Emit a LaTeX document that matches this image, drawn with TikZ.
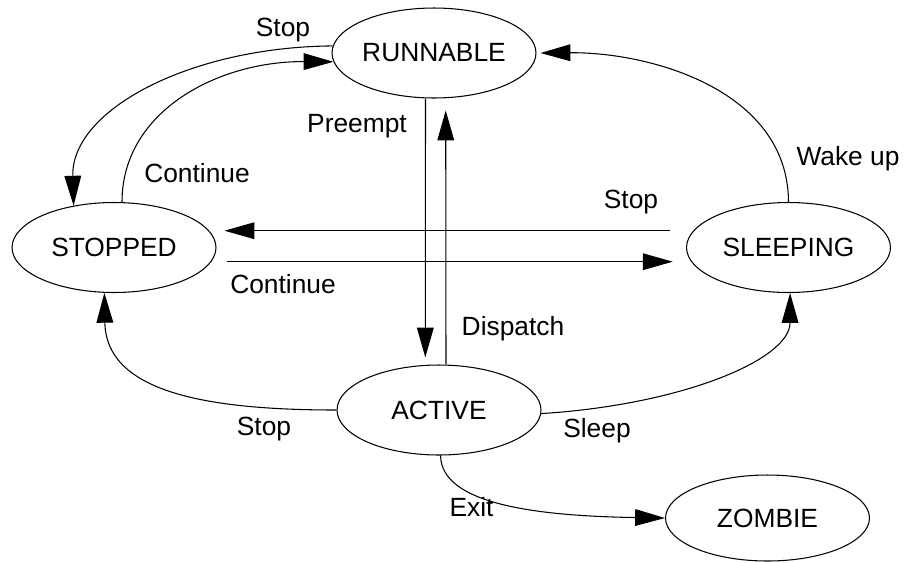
\documentclass[tikz,border=0pt]{standalone}
\usepackage{fontspec}
\setmainfont{Liberation Sans}
\usetikzlibrary{arrows.meta,shapes.geometric,calc}
\begin{document}
\begin{tikzpicture}[x=0.02cm,y=-0.02cm,
  state/.style={ellipse,draw,line width=0.6pt,minimum width=4.08cm,minimum height=1.8cm,inner sep=0pt,font=\fontsize{15}{18}\selectfont},
  lbl/.style={anchor=base,inner sep=0pt,font=\fontsize{15}{18}\selectfont},
  arr/.style={line width=0.6pt,-{Triangle[length=17pt,width=9.5pt]}}]
\useasboundingbox (0,0) rectangle (905,562);
\node[state] (run) at (434,53) {RUNNABLE};
\node[state] (stop) at (114,247.5) {STOPPED};
\node[state] (sleep) at (788.5,247.5) {SLEEPING};
\node[state] (act) at (439,410) {ACTIVE};
\node[state,minimum height=1.72cm] (zom) at (767.5,518) {ZOMBIE};
% curved connectors
\draw[arr] (run.176) .. controls (190,47) and (71,110) .. (stop.134);
\draw[arr] (stop.80) .. controls (122,110) and (220,61) .. (run.185);
\draw[arr] (sleep.90) .. controls (788,90) and (650,52) .. ($(run.east)+(4,0)$);
\draw[arr] (act.180) .. controls (200,410) and (106,390) .. (stop.258);
\draw[arr] (act.358) .. controls (680,405) and (790,360) .. (sleep.272);
\draw[arr] (act.272) .. controls (441,505) and (540,516) .. (zom.west);
% straight connectors
\draw[arr] ($(run.south)+(-8.5,0)$) -- ($(act.north)+(-13.7,-7)$);
\draw[arr] ($(act.north)+(7,0)$) -- ($(run.south)+(11.7,12)$);
\draw[arr] ($(sleep.west)+(-16,-16.8)$) -- ($(stop.east)+(8,-16.8)$);
\draw[arr] ($(stop.east)+(10,14.2)$) -- ($(sleep.west)+(-13.3,14.2)$);
% labels
\node[lbl] (l1) at (283,36.7) {Stop};
\node[lbl] (l2) at (197,182) {Continue};
\node[lbl] (l3) at (357,132.7) {Preempt};
\node[lbl] (l4) at (631,208) {Stop};
\node[lbl] (l5) at (283,293) {Continue};
\node[lbl] (l6) at (848,165) {Wake up};
\node[lbl] (l7) at (513,335.5) {Dispatch};
\node[lbl] (l8) at (264,435) {Stop};
\node[lbl] (l9) at (597,437.7) {Sleep};
\node[lbl] (l10) at (471.5,516) {Exit};
\end{tikzpicture}
\end{document}
